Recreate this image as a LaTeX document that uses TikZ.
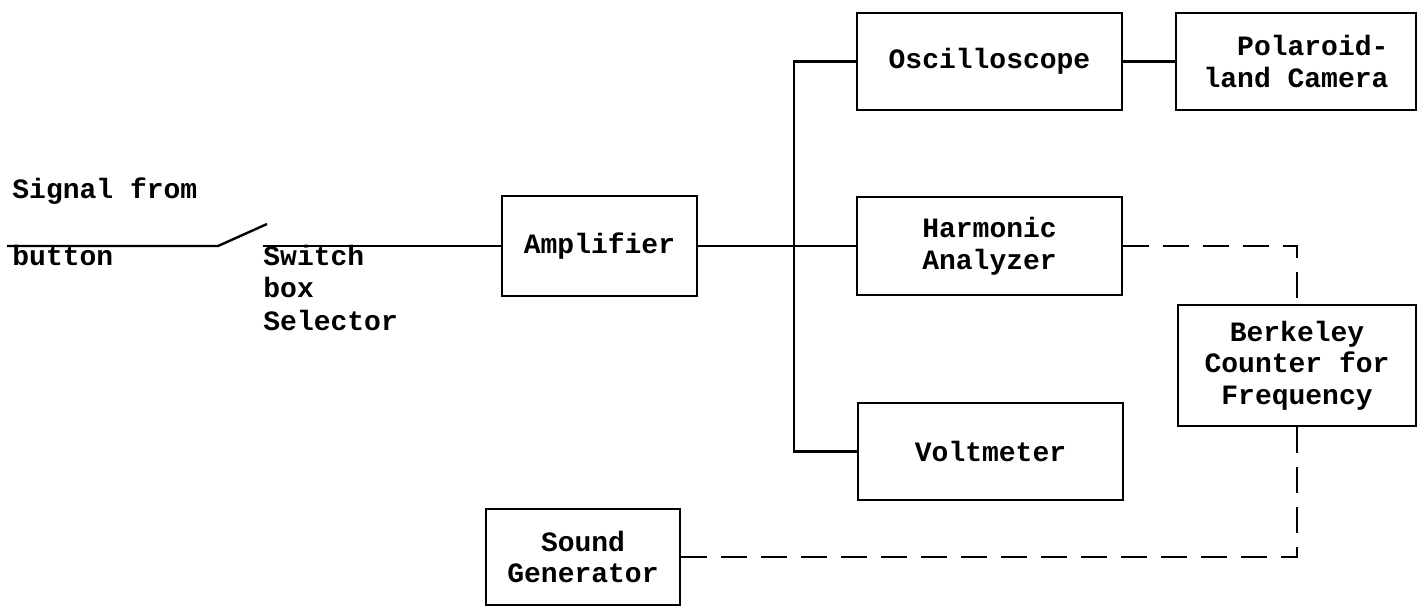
\documentclass[tikz,border=0pt]{standalone}
\usepackage{fontspec}
\setmainfont{Liberation Mono}
\begin{document}
\begin{tikzpicture}[x=0.5pt,y=-0.5pt,
  every node/.style={font=\fontsize{14pt}{15.75pt}\selectfont\bfseries},
  box/.style={draw, line width=1.2pt, rectangle, inner sep=0pt, align=center},
  lbl/.style={anchor=base west, inner sep=0pt},
  wire/.style={line width=1.2pt},
  dashwire/.style={line width=1.2pt, dash pattern=on 13pt off 7pt}]
\useasboundingbox (0,0) rectangle (1418,607);
% boxes
\node[box, minimum width=97.5pt, minimum height=50pt] (amp) at (599.5,246) {Amplifier};
\node[box, minimum width=132.5pt, minimum height=48.5pt] (osc) at (989.5,61.5) {Oscilloscope};
\node[box, minimum width=120pt, minimum height=48.5pt] (pol) at (1296,61.5) {\hspace*{1.2em}Polaroid-\\land Camera};
\node[box, minimum width=132.5pt, minimum height=49pt] (har) at (989.5,246) {Harmonic\\Analyzer};
\node[box, minimum width=119pt, minimum height=60.5pt] (ber) at (1297,365.5) {Berkeley\\Counter for\\Frequency};
\node[box, minimum width=132.5pt, minimum height=48.5pt] (vol) at (990.5,451.5) {Voltmeter};
\node[box, minimum width=97pt, minimum height=48pt] (snd) at (583,557) {Sound\\Generator};
% free labels
\node[lbl] (sig) at (12,198) {Signal from};
\node[lbl] (btn) at (12,265) {button};
\node[lbl] (sw1) at (263,265) {Switch};
\node[lbl] (sw2) at (263,297) {box};
\node[lbl] (sw3) at (263,330) {Selector};
% switch
\coordinate (a0) at (7,246);
\coordinate (a1) at (218,246);
\coordinate (a2) at (267,224);
\coordinate (a3) at (263,246);
\coordinate (bus) at (794,246);
\draw[wire] (a0) -- (a1) -- (a2);
\draw[wire] (a3) -- (amp.west);
\draw[wire] (amp.east) -- (har.west);
\draw[wire] (osc.west) -| (bus) |- (vol.west);
\draw[wire] (osc.east) -- (pol.west);
\draw[dashwire] (har.east) -| (ber.north);
\draw[dashwire] (ber.south) |- (snd.east);
\end{tikzpicture}
\end{document}
